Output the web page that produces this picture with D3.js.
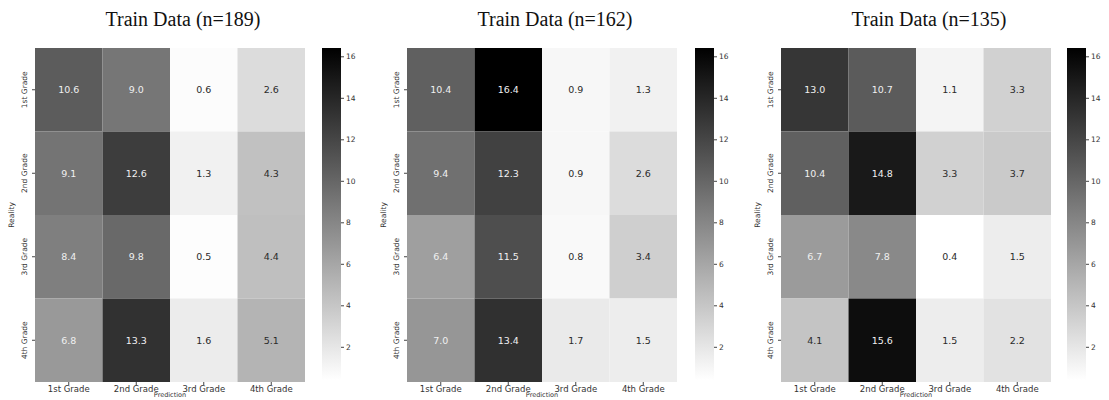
<!DOCTYPE html>
<html>
<head>
<meta charset="utf-8">
<script src="https://cdn.jsdelivr.net/npm/d3@7"></script>
<style>
  body { margin: 0; background: #fff; }
  svg text { font-family: "DejaVu Sans", sans-serif; }
</style>
</head>
<body>
<svg id="chart" width="1109" height="400"></svg>
<script>
// Confusion matrices (percent), rows = reality, cols = prediction
const grades = ['1st Grade', '2nd Grade', '3rd Grade', '4th Grade'];
const titles = ['Train Data (n=189)', 'Train Data (n=162)', 'Train Data (n=135)'];
const matrixA = [
    [10.6, 9.0, 0.6, 2.6],
    [9.1, 12.6, 1.3, 4.3],
    [8.4, 9.8, 0.5, 4.4],
    [6.8, 13.3, 1.6, 5.1]
];
const matrixB = [
    [10.4, 16.4, 0.9, 1.3],
    [9.4, 12.3, 0.9, 2.6],
    [6.4, 11.5, 0.8, 3.4],
    [7.0, 13.4, 1.7, 1.5]
];
const matrixC = [
    [13.0, 10.7, 1.1, 3.3],
    [10.4, 14.8, 3.3, 3.7],
    [6.7, 7.8, 0.4, 1.5],
    [4.1, 15.6, 1.5, 2.2]
];
const colorTicks = [2, 4, 6, 8, 10, 12, 14, 16];
const colorDomain = [0.4, 16.4];

const svg = d3.select('#chart');

// white -> black, like matplotlib gray_r
const color = d3.scaleLinear().domain(colorDomain).range(['#ffffff', '#000000']);

// seaborn-style annotation colour: dark text on light cells
const textColor = v => {
    const c = d3.rgb(color(v));
    const lin = x => { x /= 255; return x <= 0.03928 ? x / 12.92 : Math.pow((x + 0.055) / 1.055, 2.4); };
    const lum = 0.2126 * lin(c.r) + 0.7152 * lin(c.g) + 0.0722 * lin(c.b);
    return lum > 0.408 ? '#2a2a2a' : '#f0f0f0';
};

const panels = [
    { data: matrixA, title: titles[0], left: 35, cbLeft: 322 },
    { data: matrixB, title: titles[1], left: 407, cbLeft: 695 },
    { data: matrixC, title: titles[2], left: 781, cbLeft: 1067 }
];

const mapTop = 48, mapBottom = 382, mapWidth = 270, cbWidth = 19;

// gradient for the colorbars
const defs = svg.append('defs');
const grad = defs.append('linearGradient')
    .attr('id', 'cbGrad')
    .attr('x1', 0).attr('y1', 1).attr('x2', 0).attr('y2', 0);
d3.range(0, 1.0001, 0.1).forEach(t => {
    grad.append('stop')
        .attr('offset', t)
        .attr('stop-color', color(colorDomain[0] + t * (colorDomain[1] - colorDomain[0])));
});

panels.forEach(p => {
    const g = svg.append('g');

    const x = d3.scaleBand().domain(grades).range([p.left, p.left + mapWidth]);
    const y = d3.scaleBand().domain(grades).range([mapTop, mapBottom]);

    g.append('text')
        .attr('x', p.left + mapWidth / 2 + 13)
        .attr('y', 26)
        .attr('text-anchor', 'middle')
        .style('font-family', '"Liberation Serif", "Times New Roman", serif')
        .attr('font-size', '20px')
        .attr('fill', '#111')
        .text(p.title);

    const cells = [];
    p.data.forEach((row, i) => row.forEach((v, j) => cells.push({ r: grades[i], c: grades[j], v })));

    g.selectAll('rect.cell')
        .data(cells)
        .enter()
        .append('rect')
        .attr('class', 'cell')
        .attr('x', d => x(d.c))
        .attr('y', d => y(d.r))
        .attr('width', x.bandwidth())
        .attr('height', y.bandwidth())
        .attr('fill', d => color(d.v));

    g.selectAll('text.val')
        .data(cells)
        .enter()
        .append('text')
        .attr('class', 'val')
        .attr('x', d => x(d.c) + x.bandwidth() / 2)
        .attr('y', d => y(d.r) + y.bandwidth() / 2)
        .attr('dy', '0.35em')
        .attr('text-anchor', 'middle')
        .attr('font-size', '9.5px')
        .attr('fill', d => textColor(d.v))
        .text(d => d.v.toFixed(1));

    // axes
    const xAxis = g.append('g')
        .attr('transform', `translate(0,${mapBottom})`)
        .call(d3.axisBottom(x).tickSize(3).tickPadding(1));
    xAxis.select('.domain').remove();
    xAxis.selectAll('line').attr('stroke', '#444');
    xAxis.selectAll('text').attr('font-size', '8.5px').attr('fill', '#333')
        .style('font-family', '"DejaVu Sans", sans-serif');

    const yAxis = g.append('g')
        .attr('transform', `translate(${p.left},0)`)
        .call(d3.axisLeft(y).tickSize(3).tickPadding(2));
    yAxis.select('.domain').remove();
    yAxis.selectAll('line').attr('stroke', '#444');
    yAxis.selectAll('text')
        .attr('font-size', '7.5px')
        .attr('fill', '#333')
        .style('font-family', '"DejaVu Sans", sans-serif')
        .attr('text-anchor', 'middle')
        .attr('x', 0)
        .attr('y', 0)
        .attr('dy', 0)
        .attr('transform', 'translate(-8,0) rotate(-90)');

    g.append('text')
        .attr('transform', `translate(${p.left - 21},${(mapTop + mapBottom) / 2}) rotate(-90)`)
        .attr('text-anchor', 'middle')
        .attr('font-size', '7.5px')
        .attr('fill', '#333')
        .text('Reality');

    g.append('text')
        .attr('x', p.left + mapWidth / 2)
        .attr('y', 397)
        .attr('text-anchor', 'middle')
        .attr('font-size', '6.5px')
        .attr('fill', '#333')
        .text('Prediction');

    // colorbar
    const cb = d3.scaleLinear().domain(colorDomain).range([mapBottom - 2, mapTop]);
    g.append('rect')
        .attr('x', p.cbLeft)
        .attr('y', mapTop)
        .attr('width', cbWidth)
        .attr('height', mapBottom - 2 - mapTop)
        .attr('fill', 'url(#cbGrad)');
    const cbAxis = g.append('g')
        .attr('transform', `translate(${p.cbLeft + cbWidth},0)`)
        .call(d3.axisRight(cb).tickValues(colorTicks).tickSize(3).tickPadding(2));
    cbAxis.select('.domain').remove();
    cbAxis.selectAll('line').attr('stroke', '#444');
    cbAxis.selectAll('text').attr('font-size', '7.5px').attr('fill', '#333')
        .style('font-family', '"DejaVu Sans", sans-serif');
});
</script>
</body>
</html>
